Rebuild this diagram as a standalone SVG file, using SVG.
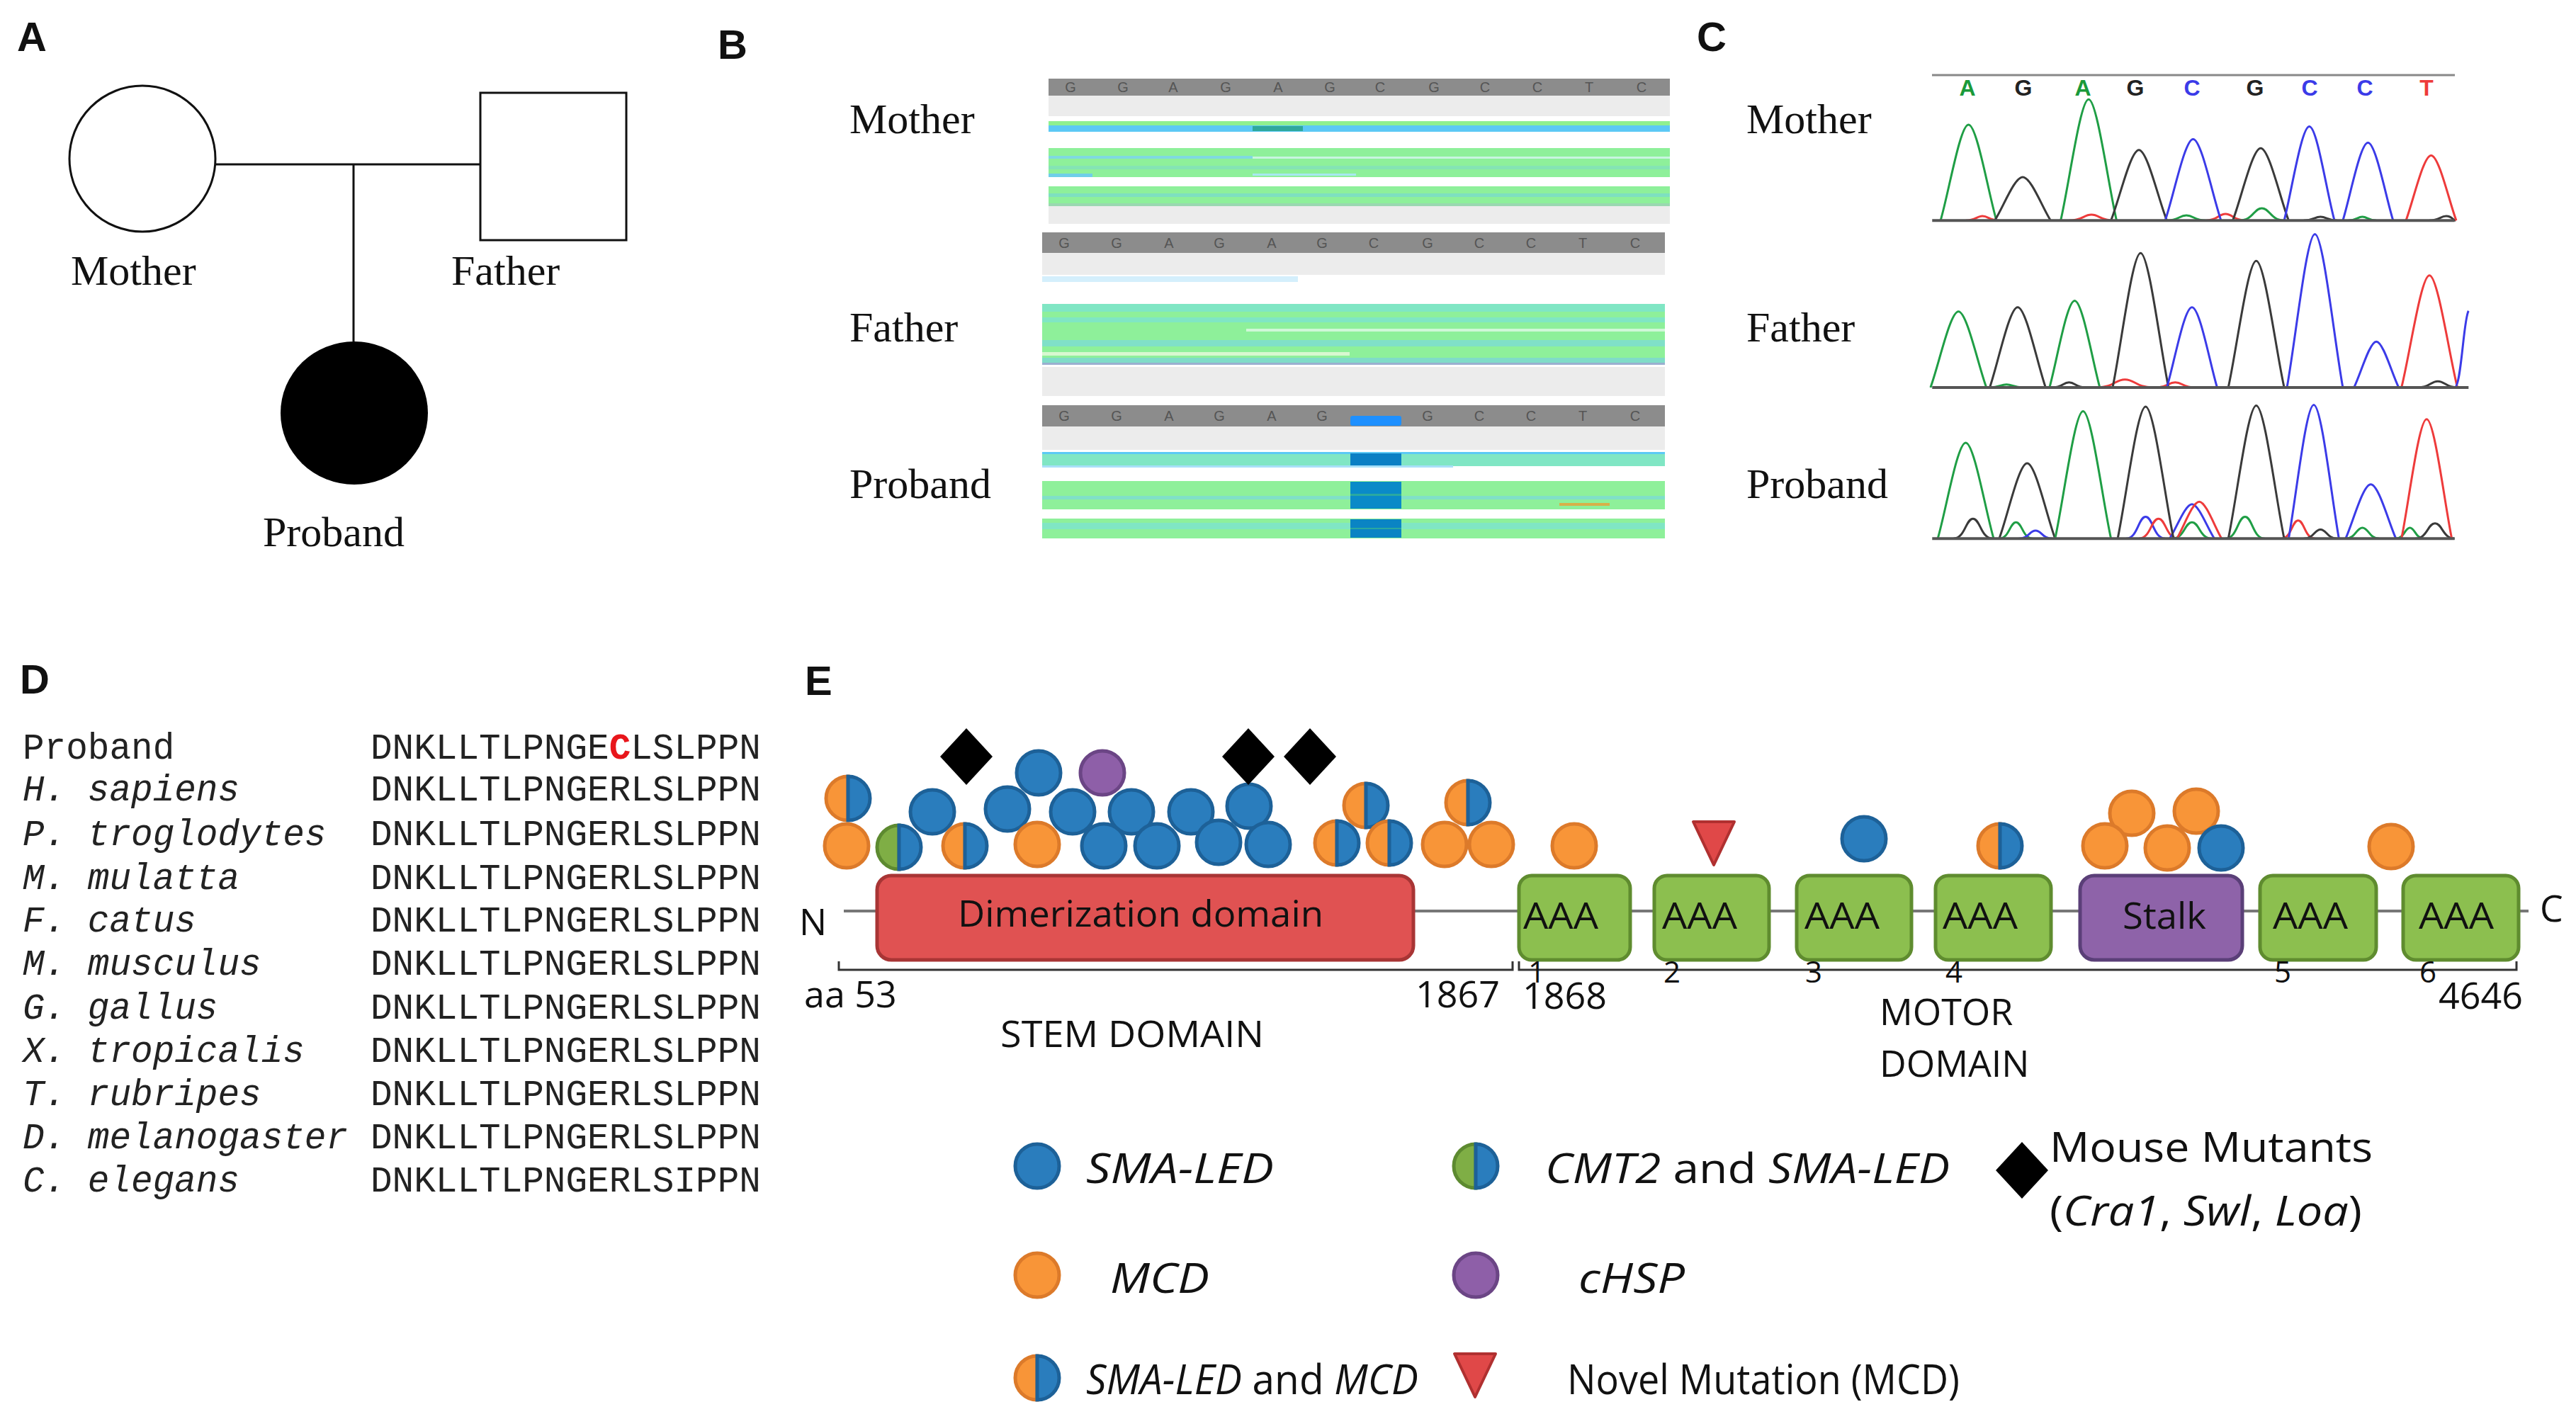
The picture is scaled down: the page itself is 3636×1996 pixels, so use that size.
<svg xmlns="http://www.w3.org/2000/svg" width="3636" height="1996" viewBox="0 0 3636 1996">
<style>
.pl{font-family:"Liberation Sans",Arial,sans-serif;font-weight:bold;font-size:58px;fill:#111}
.tm{font-family:"Liberation Serif","Times New Roman",serif;font-size:60px;fill:#111}
.mono{font-family:"Liberation Mono","Courier New",monospace;font-size:51px;fill:#222}
.it{font-style:italic}
.os{font-family:"Open Sans","Noto Sans",sans-serif;fill:#111}
.lbl{font-size:52px}
.num{font-size:42px}
.leg{font-size:58px}
.hl{font-family:"Liberation Sans",Arial,sans-serif;font-size:20px;fill:#555;text-anchor:middle}
.chl{font-family:"Liberation Sans",Arial,sans-serif;font-weight:bold;font-size:32px;text-anchor:middle}
.pk{fill:none;stroke-width:3;vector-effect:non-scaling-stroke;stroke-linejoin:round}
.g{stroke:#1f9e45}.k{stroke:#3a3a3a}.b{stroke:#3b3be8}.r{stroke:#ee3b3b}
.ped{fill:none;stroke:#111;stroke-width:3}
.aaa{fill:#8cbf4f;stroke:#5f8c2f;stroke-width:5}
</style>
<defs>
<g id="bl"><circle r="31" fill="#2a7dbd" stroke="#1d6198" stroke-width="5"/></g>
<g id="or"><circle r="31" fill="#f89538" stroke="#dc7a2a" stroke-width="5"/></g>
<g id="pu"><circle r="31" fill="#8e5fa8" stroke="#6b4585" stroke-width="5"/></g>
<g id="ob"><path d="M0,-31 A31,31 0 0 0 0,31 Z" fill="#f89538" stroke="#dc7a2a" stroke-width="5"/><path d="M0,-31 A31,31 0 0 1 0,31 Z" fill="#2a7dbd" stroke="#1d6198" stroke-width="5"/></g>
<g id="gb"><path d="M0,-31 A31,31 0 0 0 0,31 Z" fill="#7fae45" stroke="#5d8a30" stroke-width="5"/><path d="M0,-31 A31,31 0 0 1 0,31 Z" fill="#2a7dbd" stroke="#1d6198" stroke-width="5"/></g>
<path id="dia" d="M0,-40 L37,0 L0,40 L-37,0 Z" fill="#000"/>
<path id="tri" d="M-29,-30 L29,-30 L0,31 Z" fill="#e04848" stroke="#b03030" stroke-width="4" stroke-linejoin="round"/>
</defs>
<rect width="3636" height="1996" fill="#fff"/>

<!-- Panel letters -->
<text class="pl" x="24" y="72">A</text>
<text class="pl" x="1013" y="83">B</text>
<text class="pl" x="2395" y="72">C</text>
<text class="pl" x="28" y="979">D</text>
<text class="pl" x="1136" y="981">E</text>

<!-- Panel A pedigree -->
<g id="pedigree-connectors">
<line class="ped" x1="305" y1="232" x2="678" y2="232"/>
<line class="ped" x1="499" y1="232" x2="499" y2="482"/>
</g>
<g id="node-mother"><circle class="ped" cx="201" cy="224" r="103" fill="#fff"/><text class="tm" x="100" y="402">Mother</text></g>
<g id="node-father"><rect class="ped" x="678" y="131" width="206" height="208" fill="#fff"/><text class="tm" x="637" y="402">Father</text></g>
<g id="node-proband"><ellipse cx="500" cy="583" rx="104" ry="101" fill="#000"/><text class="tm" x="371" y="771">Proband</text></g>

<!-- Panel B reads -->
<g id="panel-b">
<text class="tm" x="1199" y="188">Mother</text>
<text class="tm" x="1199" y="482">Father</text>
<text class="tm" x="1199" y="703">Proband</text>
<rect x="1480" y="111" width="877" height="24" fill="#8c8c8c"/>
<text class="hl" x="1511 1585 1656 1730 1804 1877 1948 2024 2096 2170 2243 2317" y="130">GGAGAGCGCCTC</text>
<rect x="1480" y="135" width="877" height="29" fill="#ececec"/>
<rect x="1480" y="171" width="877" height="6" fill="#8ff08f"/>
<rect x="1480" y="177" width="877" height="9" fill="#5cc9f5"/>
<rect x="1768" y="178" width="71" height="7" fill="#2fa89c"/>
<rect x="1480" y="209" width="877" height="41" fill="#8ef09a"/>
<rect x="1480" y="220" width="288" height="4" fill="#7fd9e0"/>
<rect x="1768" y="221" width="589" height="3" fill="#c8f5e0"/>
<rect x="1480" y="234" width="877" height="5" fill="#84e4b4"/>
<rect x="1480" y="245" width="62" height="5" fill="#70cfe8"/>
<rect x="1768" y="245" width="146" height="3" fill="#a8e8f0"/>
<rect x="1480" y="263" width="877" height="28" fill="#8ef09a"/>
<rect x="1480" y="273" width="877" height="5" fill="#7ee0c0"/>
<rect x="1480" y="287" width="877" height="4" fill="#9ad8b0"/>
<rect x="1480" y="291" width="877" height="25" fill="#ececec"/>
<rect x="1471" y="328" width="879" height="29" fill="#8c8c8c"/>
<text class="hl" x="1502 1576 1650 1721 1795 1866 1939 2015 2088 2161 2234 2308" y="350">GGAGAGCGCCTC</text>
<rect x="1471" y="357" width="879" height="31" fill="#ececec"/>
<rect x="1471" y="390" width="361" height="8" fill="#d4effc"/>
<rect x="1471" y="429" width="879" height="86" fill="#8ef09a"/>
<rect x="1471" y="429" width="879" height="11" fill="#80e6c4"/>
<rect x="1471" y="448" width="879" height="7" fill="#80e6c4"/>
<rect x="1759" y="464" width="591" height="4" fill="#d0f8d8"/>
<rect x="1471" y="480" width="879" height="9" fill="#80e0c8"/>
<rect x="1471" y="497" width="434" height="5" fill="#d8f8d0"/>
<rect x="1471" y="505" width="879" height="7" fill="#80dcc8"/>
<rect x="1471" y="512" width="879" height="3" fill="#9ab0d0"/>
<rect x="1471" y="518" width="879" height="41" fill="#ececec"/>
<rect x="1471" y="572" width="879" height="30" fill="#8c8c8c"/>
<text class="hl" x="1502 1576 1650 1721 1795 1866 2015 2088 2161 2234 2308" y="594">GGAGAGGCCTC</text>
<rect x="1471" y="602" width="879" height="33" fill="#ececec"/>
<rect x="1906" y="587" width="72" height="14" rx="3" fill="#1e90ff"/>
<rect x="1471" y="638" width="879" height="20" fill="#80e6c4"/>
<rect x="1471" y="638" width="879" height="3" fill="#5cc9f5"/>
<rect x="1471" y="657" width="580" height="3" fill="#a8e0f8"/>
<rect x="1471" y="679" width="879" height="40" fill="#8ef09a"/>
<rect x="1471" y="700" width="879" height="5" fill="#80e0c8"/>
<rect x="1471" y="732" width="879" height="28" fill="#8ef09a"/>
<rect x="1471" y="738" width="879" height="9" fill="#80e6c4"/>
<rect x="1906" y="640" width="72" height="17" fill="#0a7fc4"/>
<rect x="1906" y="680" width="72" height="38" fill="#0a8ac8"/>
<rect x="1906" y="697" width="72" height="3" fill="#2aa8a0"/>
<rect x="1906" y="733" width="72" height="26" fill="#0a84c4"/>
<rect x="1906" y="745" width="72" height="2" fill="#2aa8a0"/>
<rect x="2201" y="710" width="71" height="4" fill="#d8b048"/>
</g>

<!-- Panel C chromatograms -->
<g id="panel-c">
<text class="tm" x="2465" y="188">Mother</text>
<text class="tm" x="2465" y="482">Father</text>
<text class="tm" x="2465" y="703">Proband</text>
<line x1="2727" y1="106" x2="3465" y2="106" stroke="#888" stroke-width="3"/>
<text class="chl" y="135"><tspan x="2777" fill="#1a9a3a">A</tspan><tspan x="2856" fill="#222">G</tspan><tspan x="2940" fill="#1a9a3a">A</tspan><tspan x="3014" fill="#222">G</tspan><tspan x="3094" fill="#3b3be8">C</tspan><tspan x="3183" fill="#222">G</tspan><tspan x="3260" fill="#3b3be8">C</tspan><tspan x="3338" fill="#3b3be8">C</tspan><tspan x="3425" fill="#ee3b3b">T</tspan></text>
<g transform="translate(2400,0) scale(0.7886,0.5102)">
<!-- mother -->
<path class="pk r" d="M475,610 C493,610 494,598 505,598 C516,598 517,610 535,610"/>
<path class="pk r" d="M660,610 C684,610 686,594 700,594 C714,594 716,610 740,610"/>
<path class="pk g" d="M835,610 C856,610 857,596 870,596 C883,596 884,610 905,610"/>
<path class="pk r" d="M905,610 C926,610 927,592 940,592 C953,592 954,610 975,610"/>
<path class="pk g" d="M965,610 C989,610 991,576 1005,576 C1019,576 1021,610 1045,610"/>
<path class="pk k" d="M1080,610 C1098,610 1099,600 1110,600 C1121,600 1122,610 1140,610"/>
<path class="pk g" d="M1160,610 C1175,610 1176,600 1185,600 C1194,600 1195,610 1210,610"/>
<path class="pk k" d="M1305,610 C1323,610 1324,598 1335,598 C1346,598 1347,610 1352,610"/>
<path class="pk g" d="M430,610 C445,530 465,345 480,345 S515,530 530,610"/>
<path class="pk k" d="M527,610 C542,574 562,490 577,490 S612,574 627,610"/>
<path class="pk g" d="M645,610 C660,510 680,275 695,275 S730,510 745,610"/>
<path class="pk k" d="M735,610 C750,552 770,415 785,415 S820,552 835,610"/>
<path class="pk b" d="M832,610 C847,543 867,385 882,385 S917,543 932,610"/>
<path class="pk k" d="M953,610 C968,550 988,410 1003,410 S1038,550 1053,610"/>
<path class="pk b" d="M1045,610 C1058,532 1076,350 1090,350 S1121,532 1135,610"/>
<path class="pk b" d="M1150,610 C1163,545 1181,395 1195,395 S1227,545 1240,610"/>
<path class="pk r" d="M1263,610 C1276,556 1294,430 1308,430 S1340,556 1353,610"/>
<path d="M415,610 H1350" stroke="#555" stroke-width="4" vector-effect="non-scaling-stroke"/>
<!-- father -->
<path class="pk r" d="M710,1072 C740,1072 742,1050 760,1050 C778,1050 780,1072 810,1072"/>
<path class="pk r" d="M815,1072 C836,1072 837,1058 850,1058 C863,1058 864,1072 885,1072"/>
<path class="pk g" d="M518,1072 C536,1072 537,1064 548,1064 C559,1064 560,1072 578,1072"/>
<path class="pk k" d="M630,1072 C648,1072 649,1058 660,1058 C671,1058 672,1072 690,1072"/>
<path class="pk k" d="M1285,1072 C1306,1072 1307,1055 1320,1055 C1333,1055 1334,1072 1355,1072"/>
<path class="pk g" d="M412,1072 C427,1009 447,862 462,862 S497,1009 512,1072"/>
<path class="pk k" d="M518,1072 C533,1005 553,850 568,850 S603,1005 618,1072"/>
<path class="pk g" d="M625,1072 C638,1000 656,832 670,832 S702,1000 715,1072"/>
<path class="pk k" d="M738,1072 C753,960 773,700 788,700 S823,960 838,1072"/>
<path class="pk b" d="M835,1072 C848,1005 866,850 880,850 S912,1005 925,1072"/>
<path class="pk k" d="M945,1072 C960,967 980,722 995,722 S1030,967 1045,1072"/>
<path class="pk b" d="M1050,1072 C1065,945 1085,648 1100,648 S1135,945 1150,1072"/>
<path class="pk b" d="M1170,1072 C1182,1034 1198,945 1210,945 S1238,1034 1250,1072"/>
<path class="pk r" d="M1255,1072 C1270,979 1290,762 1305,762 S1340,979 1355,1072"/>
<path class="pk b" d="M1350,1072 C1362,1072 1366,880 1375,860"/>
<path d="M415,1072 H1375" stroke="#555" stroke-width="4" vector-effect="non-scaling-stroke"/>
<!-- proband -->
<path class="pk k" d="M453,1490 C474,1490 475,1435 488,1435 C501,1435 502,1490 523,1490"/>
<path class="pk g" d="M535,1490 C553,1490 554,1445 565,1445 C576,1445 577,1490 595,1490"/>
<path class="pk b" d="M570,1490 C588,1490 589,1468 600,1468 C611,1468 612,1490 630,1490"/>
<path class="pk b" d="M762,1490 C783,1490 784,1430 797,1430 C810,1430 811,1490 832,1490"/>
<path class="pk r" d="M785,1490 C806,1490 807,1435 820,1435 C833,1435 834,1490 855,1490"/>
<path class="pk g" d="M845,1490 C866,1490 867,1445 880,1445 C893,1445 894,1490 915,1490"/>
<path class="pk g" d="M940,1490 C961,1490 962,1430 975,1430 C988,1430 989,1490 1010,1490"/>
<path class="pk r" d="M1040,1490 C1058,1490 1059,1440 1070,1440 C1081,1440 1082,1490 1100,1490"/>
<path class="pk k" d="M1080,1490 C1098,1490 1099,1465 1110,1465 C1121,1465 1122,1490 1140,1490"/>
<path class="pk g" d="M1155,1490 C1173,1490 1174,1460 1185,1460 C1196,1460 1197,1490 1215,1490"/>
<path class="pk g" d="M1245,1490 C1260,1490 1261,1460 1270,1460 C1279,1460 1280,1490 1295,1490"/>
<path class="pk k" d="M1280,1490 C1301,1490 1302,1448 1315,1448 C1328,1448 1329,1490 1350,1490"/>
<path class="pk b" d="M840,1490 C852,1462 868,1395 880,1395 S908,1462 920,1490"/>
<path class="pk r" d="M853,1490 C865,1459 881,1388 893,1388 S921,1459 933,1490"/>
<path class="pk g" d="M425,1490 C440,1410 460,1225 475,1225 S510,1410 525,1490"/>
<path class="pk k" d="M535,1490 C550,1428 570,1282 585,1282 S620,1428 635,1490"/>
<path class="pk g" d="M635,1490 C650,1384 670,1138 685,1138 S720,1384 735,1490"/>
<path class="pk k" d="M747,1490 C762,1380 782,1125 797,1125 S832,1380 847,1490"/>
<path class="pk k" d="M945,1490 C960,1380 980,1122 995,1122 S1030,1380 1045,1490"/>
<path class="pk b" d="M1053,1490 C1066,1379 1084,1120 1098,1120 S1130,1379 1143,1490"/>
<path class="pk b" d="M1155,1490 C1168,1445 1186,1340 1200,1340 S1232,1445 1245,1490"/>
<path class="pk r" d="M1255,1490 C1268,1391 1286,1160 1300,1160 S1332,1391 1345,1490"/>
<path d="M415,1490 H1350" stroke="#555" stroke-width="4" vector-effect="non-scaling-stroke"/>
</g>
</g>

<!-- Panel D alignment -->
<g id="panel-d" class="mono">
<text x="32" y="1071">Proband</text>
<text x="32" y="1130" class="it">H. sapiens</text>
<text x="32" y="1193" class="it">P. troglodytes</text>
<text x="32" y="1255" class="it">M. mulatta</text>
<text x="32" y="1315" class="it">F. catus</text>
<text x="32" y="1376" class="it">M. musculus</text>
<text x="32" y="1438" class="it">G. gallus</text>
<text x="32" y="1499" class="it">X. tropicalis</text>
<text x="32" y="1560" class="it">T. rubripes</text>
<text x="32" y="1621" class="it">D. melanogaster</text>
<text x="32" y="1682" class="it">C. elegans</text>
<text x="523" y="1071">DNKLLTLPNGE<tspan fill="#e8161b" font-weight="bold">C</tspan>LSLPPN</text>
<text x="523" y="1130">DNKLLTLPNGERLSLPPN</text>
<text x="523" y="1193">DNKLLTLPNGERLSLPPN</text>
<text x="523" y="1255">DNKLLTLPNGERLSLPPN</text>
<text x="523" y="1315">DNKLLTLPNGERLSLPPN</text>
<text x="523" y="1376">DNKLLTLPNGERLSLPPN</text>
<text x="523" y="1438">DNKLLTLPNGERLSLPPN</text>
<text x="523" y="1499">DNKLLTLPNGERLSLPPN</text>
<text x="523" y="1560">DNKLLTLPNGERLSLPPN</text>
<text x="523" y="1621">DNKLLTLPNGERLSLPPN</text>
<text x="523" y="1682">DNKLLTLPNGERLSIPPN</text>
</g>

<!-- Panel E protein diagram -->
<g id="connectors">
<line x1="1191" y1="1286" x2="3569" y2="1286" stroke="#777" stroke-width="4"/>
<path d="M1184,1357 V1369 H2135 V1357" fill="none" stroke="#333" stroke-width="3"/>
<path d="M2144,1357 V1369 H3552 V1357" fill="none" stroke="#333" stroke-width="3"/>
</g>
<g id="node-dimerization"><rect x="1238" y="1236" width="757" height="119" rx="20" fill="#e05252" stroke="#a83535" stroke-width="5"/><text class="os lbl" x="1610" y="1308" text-anchor="middle" textLength="516" lengthAdjust="spacingAndGlyphs">Dimerization domain</text></g>
<g id="node-aaa1"><rect class="aaa" x="2144" y="1236" width="157" height="119" rx="18"/><text class="os lbl" x="2203" y="1311" text-anchor="middle" textLength="106" lengthAdjust="spacingAndGlyphs">AAA</text></g>
<g id="node-aaa2"><rect class="aaa" x="2335" y="1236" width="162" height="119" rx="18"/><text class="os lbl" x="2399" y="1311" text-anchor="middle" textLength="106" lengthAdjust="spacingAndGlyphs">AAA</text></g>
<g id="node-aaa3"><rect class="aaa" x="2536" y="1236" width="162" height="119" rx="18"/><text class="os lbl" x="2600" y="1311" text-anchor="middle" textLength="106" lengthAdjust="spacingAndGlyphs">AAA</text></g>
<g id="node-aaa4"><rect class="aaa" x="2732" y="1236" width="163" height="119" rx="18"/><text class="os lbl" x="2795" y="1311" text-anchor="middle" textLength="106" lengthAdjust="spacingAndGlyphs">AAA</text></g>
<g id="node-stalk"><rect x="2936" y="1236" width="229" height="119" rx="20" fill="#8e63a9" stroke="#5a3f78" stroke-width="5"/><text class="os lbl" x="3055" y="1311" text-anchor="middle" textLength="118" lengthAdjust="spacingAndGlyphs">Stalk</text></g>
<g id="node-aaa5"><rect class="aaa" x="3190" y="1236" width="164" height="119" rx="18"/><text class="os lbl" x="3261" y="1311" text-anchor="middle" textLength="106" lengthAdjust="spacingAndGlyphs">AAA</text></g>
<g id="node-aaa6"><rect class="aaa" x="3392" y="1236" width="163" height="119" rx="18"/><text class="os lbl" x="3467" y="1311" text-anchor="middle" textLength="106" lengthAdjust="spacingAndGlyphs">AAA</text></g>

<g id="labels-e" class="os">
<text class="lbl" x="1128" y="1320">N</text>
<text class="lbl" x="3585" y="1301">C</text>
<text class="num" x="2157" y="1387">1</text>
<text class="num" x="2348" y="1387">2</text>
<text class="num" x="2548" y="1387">3</text>
<text class="num" x="2746" y="1387">4</text>
<text class="num" x="3210" y="1387">5</text>
<text class="num" x="3415" y="1387">6</text>
<text class="lbl" x="1135" y="1422">aa 53</text>
<text class="lbl" x="1998" y="1422">1867</text>
<text class="lbl" x="2149" y="1424">1868</text>
<text class="lbl" x="3442" y="1424">4646</text>
<text class="lbl" x="1412" y="1478" textLength="372" lengthAdjust="spacingAndGlyphs">STEM DOMAIN</text>
<text class="lbl" x="2653" y="1447">MOTOR</text>
<text class="lbl" x="2653" y="1520">DOMAIN</text>
</g>

<g id="mutations">
<use href="#ob" x="1197" y="1127"/>
<use href="#bl" x="1316" y="1146"/>
<use href="#bl" x="1422" y="1142"/>
<use href="#bl" x="1514" y="1146"/>
<use href="#bl" x="1597" y="1146"/>
<use href="#bl" x="1681" y="1146"/>
<use href="#bl" x="1763" y="1138"/>
<use href="#ob" x="1928" y="1137"/>
<use href="#ob" x="2072" y="1133"/>
<use href="#bl" x="1466" y="1091"/>
<use href="#pu" x="1556" y="1091"/>
<use href="#or" x="1195" y="1194"/>
<use href="#gb" x="1269" y="1196"/>
<use href="#ob" x="1362" y="1194"/>
<use href="#or" x="1464" y="1192"/>
<use href="#bl" x="1558" y="1194"/>
<use href="#bl" x="1633" y="1194"/>
<use href="#bl" x="1720" y="1189"/>
<use href="#bl" x="1790" y="1192"/>
<use href="#ob" x="1887" y="1190"/>
<use href="#ob" x="1961" y="1190"/>
<use href="#or" x="2039" y="1192"/>
<use href="#or" x="2105" y="1192"/>
<use href="#or" x="2222" y="1194"/>
<use href="#bl" x="2631" y="1184"/>
<use href="#ob" x="2823" y="1194"/>
<use href="#or" x="3009" y="1148"/>
<use href="#or" x="3100" y="1145"/>
<use href="#or" x="2971" y="1194"/>
<use href="#or" x="3059" y="1197"/>
<use href="#bl" x="3135" y="1197"/>
<use href="#or" x="3375" y="1195"/>
<use href="#dia" x="1364" y="1068"/>
<use href="#dia" x="1762" y="1068"/>
<use href="#dia" x="1849" y="1068"/>
<use href="#tri" x="2419" y="1190"/>
</g>

<!-- Legend -->
<g id="legend" class="os">
<use href="#bl" x="1464" y="1646"/>
<text class="leg it" x="1533" y="1670" textLength="265" lengthAdjust="spacingAndGlyphs">SMA-LED</text>
<use href="#gb" x="2083" y="1646"/>
<text class="leg" x="2181" y="1670" textLength="571" lengthAdjust="spacingAndGlyphs"><tspan class="it">CMT2</tspan> and <tspan class="it">SMA-LED</tspan></text>
<use href="#dia" x="2854" y="1652"/>
<text class="leg" x="2893" y="1640" textLength="456" lengthAdjust="spacingAndGlyphs">Mouse Mutants</text>
<text class="leg" x="2893" y="1730" textLength="441" lengthAdjust="spacingAndGlyphs">(<tspan class="it">Cra1</tspan>, <tspan class="it">Swl</tspan>, <tspan class="it">Loa</tspan>)</text>
<use href="#or" x="1464" y="1800"/>
<text class="leg it" x="1567" y="1825" textLength="140" lengthAdjust="spacingAndGlyphs">MCD</text>
<use href="#pu" x="2083" y="1800"/>
<text class="leg it" x="2228" y="1825" textLength="150" lengthAdjust="spacingAndGlyphs">cHSP</text>
<use href="#ob" x="1464" y="1945"/>
<text class="leg" x="1533" y="1968" textLength="469" lengthAdjust="spacingAndGlyphs"><tspan class="it">SMA-LED</tspan> and <tspan class="it">MCD</tspan></text>
<use href="#tri" x="2082" y="1941"/>
<text class="leg" x="2212" y="1968" textLength="554" lengthAdjust="spacingAndGlyphs">Novel Mutation (MCD)</text>
</g>
</svg>
